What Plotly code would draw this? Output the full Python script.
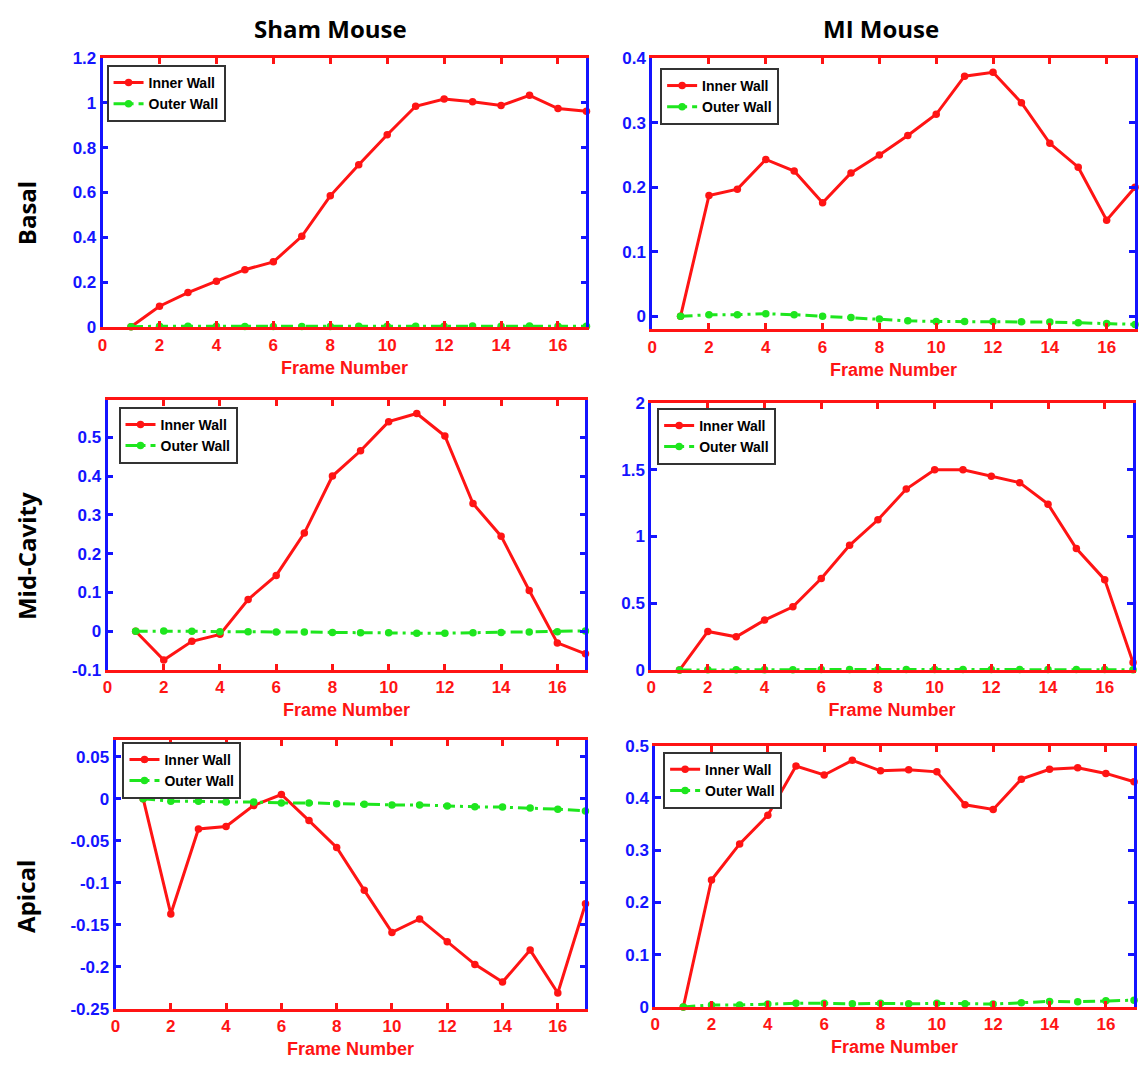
import plotly.graph_objects as go

W, H = 1144, 1072

# ---- data -------------------------------------------------------------
frames = list(range(1, 18))

sham_basal_inner = [0, 0.092, 0.153, 0.204, 0.255, 0.29, 0.404, 0.585, 0.724, 0.858,
                    0.985, 1.017, 1.005, 0.988, 1.034, 0.975, 0.963]
sham_basal_outer = [0, 0.003, 0.002, 0.002, 0.001, 0.001, 0.001, 0.001, 0.002, 0.002,
                    0.003, 0.003, 0.004, 0.003, 0.004, 0.003, 0.002]

mi_basal_inner = [0, 0.187, 0.197, 0.243, 0.225, 0.176, 0.222, 0.250, 0.280, 0.313,
                  0.372, 0.378, 0.331, 0.268, 0.231, 0.149, 0.200]
mi_basal_outer = [0, 0.0025, 0.0025, 0.004, 0.0025, 0, -0.002, -0.004, -0.007, -0.008,
                  -0.008, -0.008, -0.0085, -0.009, -0.010, -0.011, -0.0125]

sham_mid_inner = [0, -0.074, -0.026, -0.008, 0.082, 0.144, 0.253, 0.400, 0.465, 0.540,
                  0.561, 0.503, 0.329, 0.245, 0.105, -0.030, -0.058]
sham_mid_outer = [0, 0.0005, 0, -0.001, -0.001, -0.002, -0.002, -0.003, -0.004, -0.004,
                  -0.005, -0.005, -0.004, -0.003, -0.002, -0.001, 0.001]

mi_mid_inner = [0, 0.289, 0.249, 0.374, 0.474, 0.685, 0.934, 1.125, 1.355, 1.499,
                1.50, 1.45, 1.403, 1.242, 0.910, 0.677, 0.056]
mi_mid_outer = [0, 0.002, 0.002, 0.003, 0.003, 0.004, 0.004, 0.005, 0.004, 0.005,
                0.004, 0.004, 0.004, 0.005, 0.004, 0.004, 0.003]

sham_apical_inner = [0, -0.137, -0.036, -0.033, -0.008, 0.005, -0.026, -0.058, -0.109, -0.159,
                     -0.143, -0.170, -0.197, -0.218, -0.180, -0.231, -0.125]
sham_apical_outer = [0, -0.003, -0.003, -0.004, -0.004, -0.005, -0.005, -0.006, -0.0066, -0.0074,
                     -0.0074, -0.0086, -0.0097, -0.010, -0.011, -0.0125, -0.0145]

mi_apical_inner = [0, 0.243, 0.312, 0.367, 0.461, 0.444, 0.472, 0.452, 0.454, 0.450,
                   0.387, 0.378, 0.436, 0.455, 0.458, 0.447, 0.431]
mi_apical_outer = [0, 0.004, 0.004, 0.0056, 0.007, 0.007, 0.006, 0.007, 0.006, 0.007,
                   0.006, 0.0056, 0.008, 0.0107, 0.010, 0.012, 0.013]

x_ticks = [0, 2, 4, 6, 8, 10, 12, 14, 16]

col_titles = ["Sham Mouse", "MI Mouse"]
row_titles = ["Basal", "Mid-Cavity", "Apical"]
x_title = "Frame Number"
series_names = ["Inner Wall", "Outer Wall"]

y_ticks_sham_basal = [0, 0.2, 0.4, 0.6, 0.8, 1, 1.2]
y_labels_sham_basal = ["0", "0.2", "0.4", "0.6", "0.8", "1", "1.2"]
y_ticks_mi_basal = [0, 0.1, 0.2, 0.3, 0.4]
y_labels_mi_basal = ["0", "0.1", "0.2", "0.3", "0.4"]
y_ticks_sham_mid = [-0.1, 0, 0.1, 0.2, 0.3, 0.4, 0.5]
y_labels_sham_mid = ["-0.1", "0", "0.1", "0.2", "0.3", "0.4", "0.5"]
y_ticks_mi_mid = [0, 0.5, 1, 1.5, 2]
y_labels_mi_mid = ["0", "0.5", "1", "1.5", "2"]
y_ticks_sham_apical = [-0.25, -0.2, -0.15, -0.1, -0.05, 0, 0.05]
y_labels_sham_apical = ["-0.25", "-0.2", "-0.15", "-0.1", "-0.05", "0", "0.05"]
y_ticks_mi_apical = [0, 0.1, 0.2, 0.3, 0.4, 0.5]
y_labels_mi_apical = ["0", "0.1", "0.2", "0.3", "0.4", "0.5"]

# ---- styling ------------------------------------------------------------
RED = "#ff1414"
GREEN = "#1ee61e"
BLUE = "#1414ff"
TICK_FONT = "Liberation Sans"
TITLE_FONT = "Open Sans"

# panel boxes in pixels: (left, right, top, bottom), y range, legend corner
panels = [
    dict(box=(98, 584, 50, 324), yr=[-0.002, 1.2], yt=y_ticks_sham_basal, yl=y_labels_sham_basal,
         inner=sham_basal_inner, outer=sham_basal_outer, leg=(102, 57)),
    dict(box=(650, 1135, 50, 326), yr=[-0.02, 0.4], yt=y_ticks_mi_basal, yl=y_labels_mi_basal,
         inner=mi_basal_inner, outer=mi_basal_outer, leg=(658, 60)),
    dict(box=(103, 583, 398, 673), yr=[-0.1, 0.596], yt=y_ticks_sham_mid, yl=y_labels_sham_mid,
         inner=sham_mid_inner, outer=sham_mid_outer, leg=(114, 405)),
    dict(box=(649, 1133, 401, 673), yr=[0, 2], yt=y_ticks_mi_mid, yl=y_labels_mi_mid,
         inner=mi_mid_inner, outer=mi_mid_outer, leg=(655, 406)),
    dict(box=(111, 583, 744, 1018), yr=[-0.25, 0.07], yt=y_ticks_sham_apical, yl=y_labels_sham_apical,
         inner=sham_apical_inner, outer=sham_apical_outer, leg=(118, 746)),
    dict(box=(653, 1134, 750, 1016), yr=[0, 0.5], yt=y_ticks_mi_apical, yl=y_labels_mi_apical,
         inner=mi_apical_inner, outer=mi_apical_outer, leg=(661, 756)),
]

fig = go.Figure()
layout = dict(
    width=W, height=H,
    margin=dict(l=0, r=0, t=0, b=0),
    paper_bgcolor="white", plot_bgcolor="white",
    showlegend=True,
)

for i, p in enumerate(panels, start=1):
    sfx = "" if i == 1 else str(i)
    xa, ya = f"x{sfx}", f"y{sfx}"
    leg = "legend" if i == 1 else f"legend{i}"
    l, r, t, b = p["box"]

    fig.add_trace(go.Scatter(
        x=frames, y=p["inner"], name=series_names[0], mode="lines+markers",
        line=dict(color=RED, width=3), marker=dict(color=RED, size=7.5, symbol="circle"),
        xaxis=xa, yaxis=ya, legend=leg, cliponaxis=False,
    ))
    fig.add_trace(go.Scatter(
        x=frames, y=p["outer"], name=series_names[1], mode="lines+markers",
        line=dict(color=GREEN, width=3, dash="12px,5px,3px,5px"),
        marker=dict(color=GREEN, size=7.5, symbol="circle"),
        xaxis=xa, yaxis=ya, legend=leg, cliponaxis=False,
    ))

    layout[f"xaxis{sfx}"] = dict(
        domain=[l / W, r / W], anchor=ya, range=[0, 17],
        tickvals=x_ticks, ticks="inside", ticklen=6, tickwidth=2.5, tickcolor=RED,
        showline=True, linecolor=RED, linewidth=2.8, mirror="ticks",
        showgrid=False, zeroline=False,
        tickfont=dict(family=TICK_FONT, size=17, color=RED, weight="bold"),
        title=dict(text=x_title, standoff=8,
                   font=dict(family=TICK_FONT, size=18, color=RED, weight="bold")),
    )
    layout[f"yaxis{sfx}"] = dict(
        domain=[1 - b / H, 1 - t / H], anchor=xa, range=p["yr"],
        tickvals=p["yt"], ticktext=p["yl"], ticks="inside", ticklen=6, tickwidth=2.5, tickcolor=BLUE,
        showline=True, linecolor=BLUE, linewidth=2.8, mirror="ticks",
        showgrid=False, zeroline=False,
        tickfont=dict(family=TICK_FONT, size=17, color=BLUE, weight="bold"),
    )
    lx, ly = p["leg"]
    layout[leg] = dict(
        x=lx / W, y=1 - ly / H, xanchor="left", yanchor="top",
        bgcolor="white", bordercolor="#333333", borderwidth=2,
        font=dict(family=TICK_FONT, size=14, color="black", weight="bold"),
        itemwidth=30, tracegroupgap=0,
    )

annotations = []
for text, cx in zip(col_titles, [327, 880]):
    annotations.append(dict(
        text=text, x=cx / W, y=1 - 20 / H, xref="paper", yref="paper",
        xanchor="center", yanchor="middle", showarrow=False,
        font=dict(family=TITLE_FONT, size=24, color="black", weight="bold"),
    ))
for text, cy in zip(row_titles, [208, 557, 903]):
    annotations.append(dict(
        text=text, x=21 / W, y=1 - cy / H, xref="paper", yref="paper",
        xanchor="center", yanchor="middle", showarrow=False, textangle=-90,
        font=dict(family=TITLE_FONT, size=24, color="black", weight="bold"),
    ))
layout["annotations"] = annotations

fig.update_layout(**layout)
fig.write_html("out.html")
